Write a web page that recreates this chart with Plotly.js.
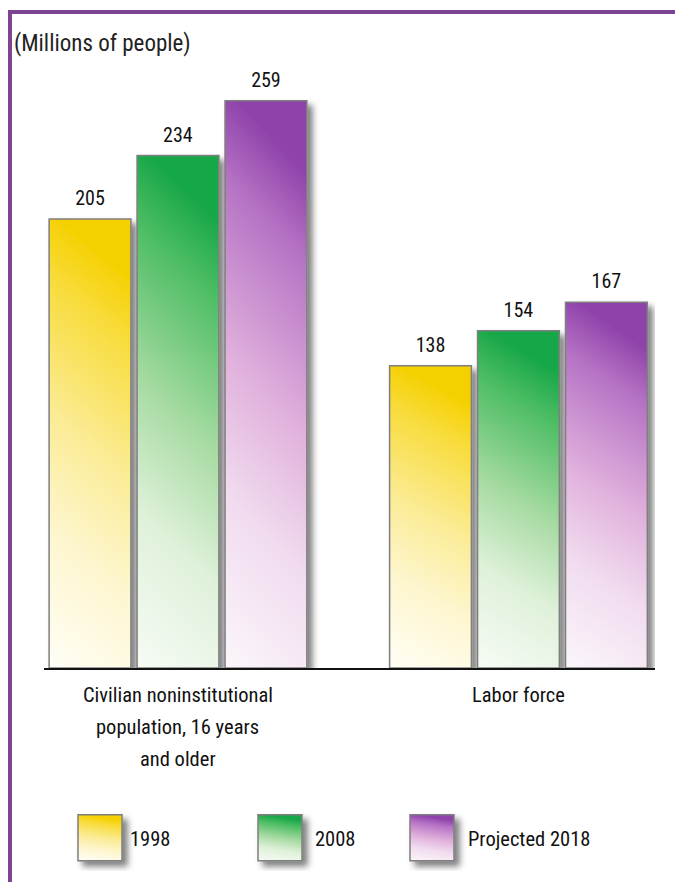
<!DOCTYPE html>
<html>
<head>
<meta charset="utf-8">
<script src="https://cdn.plot.ly/plotly-3.0.1.min.js"></script>
<style>
  html, body { margin: 0; padding: 0; background: #ffffff; }
  #chart { width: 675px; height: 882px; }
</style>
</head>
<body>
<div id="chart"></div>
<script>
// ---- data ----
const categories = ['Civilian noninstitutional population, 16 years and older', 'Labor force'];
const categoryLabelLines = [
  ['Civilian noninstitutional', 'population, 16 years', 'and older'],
  ['Labor force']
];
const seriesNames = ['1998', '2008', 'Projected 2018'];
const values1998 = [205, 138];
const values2008 = [234, 154];
const values2018 = [259, 167];
const unitNote = '(Millions of people)';

// ---- style ----
const FONT = '"Roboto Condensed", "Liberation Sans Narrow", sans-serif';
const WEIGHT = 400;
const baseColors = ['#f7d400', '#1faa4a', '#8e42a8'];
const gradStops = [
  [['0', '#fffef6'], ['0.3', '#fdf6cf'], ['0.55', '#fbec98'], ['0.85', '#f8dc3c'], ['1', '#f5d000']],
  [['0', '#f7fbf5'], ['0.3', '#dff1da'], ['0.55', '#a8dba3'], ['0.85', '#4dbd64'], ['1', '#18a748']],
  [['0', '#fbf6fb'], ['0.3', '#f1dcef'], ['0.55', '#e0b0dc'], ['0.85', '#b572c4'], ['1', '#8f42aa']]
];
const legendSwatchLeft = [78, 258, 410];
const legendTextExtra = [0, 5, 6];

const allValues = [values1998, values2008, values2018];
const traces = allValues.map((vals, i) => ({
  type: 'bar',
  name: seriesNames[i],
  x: categories,
  y: vals,
  text: vals.map(String),
  textposition: 'outside',
  cliponaxis: false,
  textfont: { family: FONT, size: 20, color: '#111111', weight: WEIGHT },
  marker: { color: baseColors[i], line: { color: '#7f7f7f', width: 1.5 } },
  hoverinfo: 'skip'
}));

const M = { l: 44, r: 20, t: 60, b: 214 };
const W = 675, H = 882;
const pw = W - M.l - M.r, ph = H - M.t - M.b;
const px2paperX = px => (px - M.l) / pw;
const px2paperY = py => (H - M.b - py) / ph;

const annotations = [];
annotations.push({
  xref: 'paper', yref: 'paper', x: px2paperX(12), y: px2paperY(43),
  xanchor: 'left', yanchor: 'middle', showarrow: false,
  text: unitNote, font: { family: FONT, size: 23, color: '#222222', weight: WEIGHT }
});
categoryLabelLines.forEach((lines, ci) => {
  lines.forEach((ln, li) => {
    annotations.push({
      xref: 'x', yref: 'paper', x: categories[ci], y: 0,
      xanchor: 'center', yanchor: 'middle', yshift: -(27 + li * 32),
      showarrow: false, text: ln, font: { family: FONT, size: 20.5, color: '#111111', weight: WEIGHT }
    });
  });
});

const frameColor = '#7d4491';
const shapes = [
  { type: 'line', xref: 'paper', yref: 'paper', x0: px2paperX(8), x1: px2paperX(680), y0: px2paperY(12), y1: px2paperY(12), line: { color: frameColor, width: 4 } },
  { type: 'line', xref: 'paper', yref: 'paper', x0: px2paperX(10), x1: px2paperX(10), y0: px2paperY(10), y1: px2paperY(890), line: { color: frameColor, width: 4 } }
];

const layout = {
  width: W, height: H,
  margin: M,
  paper_bgcolor: '#ffffff', plot_bgcolor: 'rgba(0,0,0,0)',
  barmode: 'group', bargap: 0.225, bargroupgap: 0.07,
  showlegend: true,
  legend: {
    orientation: 'h', x: px2paperX(70), y: px2paperY(838), xanchor: 'left', yanchor: 'middle',
    font: { family: FONT, size: 20.5, color: '#111111', weight: WEIGHT },
    itemwidth: 50, traceorder: 'normal', bgcolor: 'rgba(0,0,0,0)'
  },
  xaxis: {
    type: 'category', range: [-0.3935, 1.401], showline: true, linecolor: '#111111', linewidth: 2,
    ticks: '', showticklabels: false, showgrid: false, zeroline: false, fixedrange: true
  },
  yaxis: {
    range: [0, ph / 2.19], showline: false, showticklabels: false, ticks: '',
    showgrid: false, zeroline: false, fixedrange: true
  },
  annotations: annotations,
  shapes: shapes,
  font: { family: FONT }
};

Plotly.newPlot('chart', traces, layout, { displayModeBar: false, staticPlot: true }).then(gd => {
  const svg = gd.querySelector('svg.main-svg');
  const NS = 'http://www.w3.org/2000/svg';
  let defs = svg.querySelector('defs');
  if (!defs) { defs = document.createElementNS(NS, 'defs'); svg.insertBefore(defs, svg.firstChild); }
  gradStops.forEach((stops, i) => {
    const g = document.createElementNS(NS, 'linearGradient');
    g.setAttribute('id', 'bargrad' + i);
    g.setAttribute('x1', '0'); g.setAttribute('y1', '1');
    g.setAttribute('x2', '0.15'); g.setAttribute('y2', '0');
    stops.forEach(([o, c]) => {
      const s = document.createElementNS(NS, 'stop');
      s.setAttribute('offset', o); s.setAttribute('stop-color', c);
      g.appendChild(s);
    });
    defs.appendChild(g);
  });
  const f = document.createElementNS(NS, 'filter');
  f.setAttribute('id', 'barshadow');
  f.setAttribute('x', '-20%'); f.setAttribute('y', '-10%');
  f.setAttribute('width', '160%'); f.setAttribute('height', '130%');
  const ds = document.createElementNS(NS, 'feDropShadow');
  ds.setAttribute('dx', '5'); ds.setAttribute('dy', '5'); ds.setAttribute('stdDeviation', '3');
  ds.setAttribute('flood-color', '#000'); ds.setAttribute('flood-opacity', '0.5');
  f.appendChild(ds);
  defs.appendChild(f);

  gd.querySelectorAll('.barlayer .trace').forEach((tr, i) => {
    tr.querySelectorAll('.point path').forEach(p => {
      p.style.fill = 'url(#bargrad' + i + ')';
      p.setAttribute('filter', 'url(#barshadow)');
    });
    tr.querySelectorAll('.bartext').forEach(t => {
      const tf = t.getAttribute('transform') || '';
      t.setAttribute('transform', 'translate(0,-6) ' + tf);
    });
  });
  gd.querySelectorAll('.legend [clip-path]').forEach(el => el.removeAttribute('clip-path'));
  gd.querySelectorAll('.legend .traces').forEach((tr, i) => {
    let p0 = null;
    tr.querySelectorAll('.legendpoints path').forEach(p => {
      p.setAttribute('d', 'M22,23H-22V-23H22Z');
      p.style.fill = 'url(#bargrad' + i + ')';
      p.style.stroke = '#7f7f7f';
      p.style.strokeWidth = '1.5px';
      p.setAttribute('filter', 'url(#barshadow)');
      p0 = p;
    });
    if (p0 && legendSwatchLeft[i] !== undefined) {
      const svgLeft = svg.getBoundingClientRect().left;
      const curLeft = p0.getBoundingClientRect().left - svgLeft;
      const delta = legendSwatchLeft[i] - curLeft;
      const tf = tr.getAttribute('transform') || 'translate(0,0)';
      const m = tf.match(/translate\(\s*([-\d.e]+)[ ,]+([-\d.e]+)\s*\)/);
      if (m) tr.setAttribute('transform', 'translate(' + (parseFloat(m[1]) + delta) + ',' + m[2] + ')');
    }
    const lt = tr.querySelector('.legendtext');
    if (lt && legendTextExtra[i]) {
      lt.setAttribute('x', parseFloat(lt.getAttribute('x') || 0) + legendTextExtra[i]);
      lt.querySelectorAll('tspan[x]').forEach(ts => ts.setAttribute('x', parseFloat(ts.getAttribute('x')) + legendTextExtra[i]));
    }
  });
});
</script>
</body>
</html>
